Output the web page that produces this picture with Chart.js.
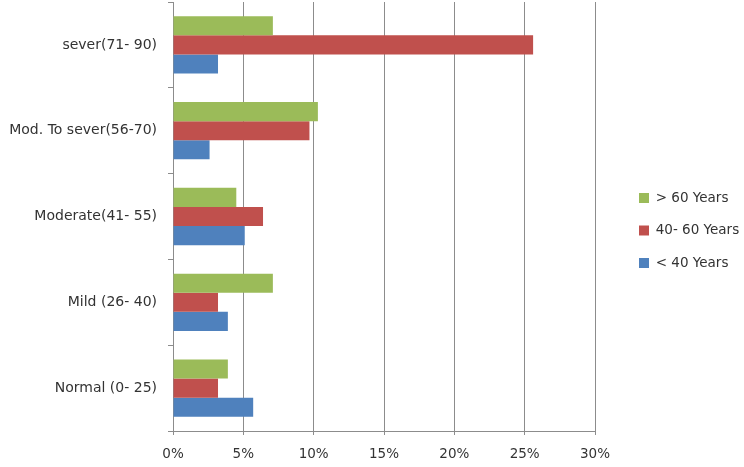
<!DOCTYPE html>
<html>
<head>
<meta charset="utf-8">
<script src="https://cdn.jsdelivr.net/npm/chart.js@4"></script>
<style>
  html, body { margin: 0; padding: 0; background: #fff; }
  #wrap { width: 744px; height: 467px; }
</style>
</head>
<body>
<div id="wrap"><canvas id="myChart"></canvas></div>
<script>
const categories = ['sever(71- 90)', 'Mod. To sever(56-70)', 'Moderate(41- 55)', 'Mild (26- 40)', 'Normal (0- 25)']
const seriesNames = ['> 60 Years', '40- 60 Years', '< 40 Years']
const over60 = [7.1, 10.3, 4.5, 7.1, 3.9]
const from40to60 = [25.6, 9.7, 6.4, 3.2, 3.2]
const under40 = [3.2, 2.6, 5.1, 3.9, 5.7]
const seriesColors = ['#9bbb59', '#c0504d', '#4f81bd']

const gridColor = '#8c8c8c'
const textColor = '#333333'

// legend sits further right than chart.js puts it, so widen it and nudge it over
const legendPlace = {
  id: 'legendPlace',
  beforeLayout(chart) {
    const lg = chart.legend
    if (lg && !lg._wrapped) {
      const fit = lg.fit
      lg.fit = function () { fit.call(this); this.width = 149 }
      lg._wrapped = true
    }
  },
  afterLayout(chart) {
    const lg = chart.legend
    lg.left += 25
    lg.top -= 4
    lg.bottom -= 4
  }
}

const ctx = document.getElementById('myChart')

const myChart = new Chart(ctx, {
  type: 'bar',
  data: {
    labels: categories,
    datasets: [
      { label: seriesNames[0], data: over60, backgroundColor: seriesColors[0] },
      { label: seriesNames[1], data: from40to60, backgroundColor: seriesColors[1] },
      { label: seriesNames[2], data: under40, backgroundColor: seriesColors[2] }
    ]
  },
  options: {
    indexAxis: 'y',
    responsive: true,
    maintainAspectRatio: false,
    animation: false,
    categoryPercentage: 0.668,
    barPercentage: 1,
    layout: { padding: { top: 2, left: 0, right: 0, bottom: 0 } },
    scales: {
      x: {
        min: 0,
        max: 30,
        ticks: {
          stepSize: 5,
          padding: 11,
          color: textColor,
          font: { family: 'DejaVu Sans', size: 13.5 },
          callback: v => v + '%'
        },
        grid: { color: gridColor, tickLength: 4 },
        border: { color: gridColor },
        afterFit: s => { s.height = 36; s.paddingLeft = 0 }
      },
      y: {
        ticks: {
          padding: 11,
          color: textColor,
          font: { family: 'DejaVu Sans', size: 14 }
        },
        grid: { drawOnChartArea: false, color: gridColor, tickLength: 5, offset: true },
        border: { color: gridColor },
        afterFit: s => { s.width = 173; s.paddingTop = 0; s.paddingBottom = 0 }
      }
    },
    plugins: {
      legend: {
        position: 'right',
        labels: {
          boxWidth: 10,
          boxHeight: 10,
          padding: 19,
          color: textColor,
          font: { family: 'DejaVu Sans', size: 13.5 }
        }
      },
      tooltip: { enabled: false }
    }
  },
  plugins: [legendPlace]
})
</script>
</body>
</html>
